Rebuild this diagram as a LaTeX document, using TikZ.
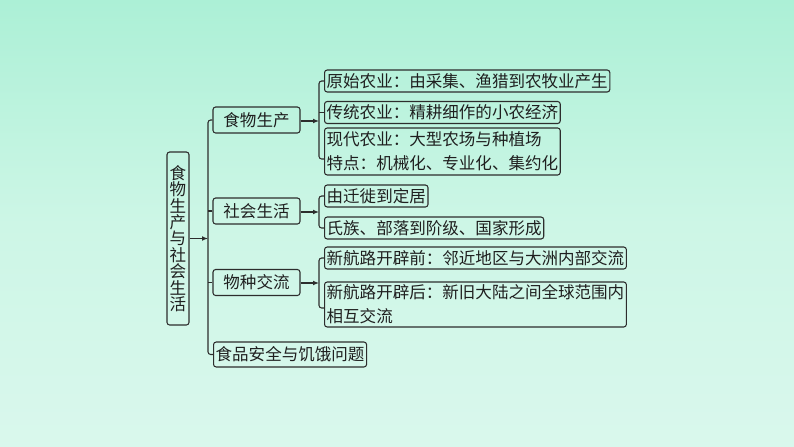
\documentclass[tikz,border=0pt]{standalone}
\usepackage{fontspec}
\newfontfamily\cjk{Noto Sans CJK SC}
\usetikzlibrary{arrows.meta}
\definecolor{bgtop}{RGB}{125,230,196}
\definecolor{bgupper}{RGB}{172,240,214}
\definecolor{bgmid}{RGB}{205,246,230}
\definecolor{bglow}{RGB}{220,248,238}
\definecolor{bgbot}{RGB}{206,240,230}
\definecolor{ln}{RGB}{45,45,45}
\pgfdeclareverticalshading{bgsh}{100bp}{color(0bp)=(bgbot); color(20bp)=(bglow); color(50bp)=(bgmid); color(75bp)=(bgupper); color(100bp)=(bgtop)}
\tikzset{
  box/.style={draw=ln, line width=0.8pt, rounded corners=2pt, inner xsep=1.6pt, inner ysep=0pt,
    font=\cjk\fontsize{12.4}{18}\selectfont, text=black!88, align=left},
  lv2/.style={box, minimum width=87*0.75pt, minimum height=26*0.75pt, align=center},
  lv3/.style={box, anchor=west, minimum height=22*0.75pt},
  conn/.style={draw=ln, line width=0.8pt, rounded corners=2pt},
  arr/.style={draw=ln, line width=0.8pt, -{Latex[length=4.5pt,width=3.6pt]}}
}
\begin{document}
\begin{tikzpicture}[x=0.75pt,y=-0.75pt]
\useasboundingbox (0,0) rectangle (794,447);
\shade[shading=bgsh] (0,0) rectangle (794,447);

% main
\node[box, align=center, font=\cjk\fontsize{12.4}{12.3}\selectfont, minimum width=22*0.75pt, minimum height=173*0.75pt, inner xsep=1.8pt] (main) at (178,238.5)
  {食\\物\\生\\产\\与\\社\\会\\生\\活};

% level 2
\node[lv2] (b1) at (256.5,120) {食物生产};
\node[lv2] (b2) at (256.5,211) {社会生活};
\node[lv2] (b3) at (256.5,282.5) {物种交流};
\node[box, anchor=west, minimum height=25*0.75pt] (b4) at (213,354.5) {食品安全与饥饿问题};

% level 3
\node[lv3] (c1) at (324,81) {原始农业：由采集、渔猎到农牧业产生};
\node[lv3] (c2) at (324,112.5) {传统农业：精耕细作的小农经济};
\node[lv3, minimum height=47*0.75pt] (c3) at (324,151.5) {现代农业：大型农场与种植场\\特点：机械化、专业化、集约化};
\node[lv3] (c4) at (324,196) {由迁徙到定居};
\node[lv3] (c5) at (324,228) {氏族、部落到阶级、国家形成};
\node[lv3] (c6) at (324,258) {新航路开辟前：邻近地区与大洲内部交流};
\node[lv3, minimum height=45*0.75pt] (c7) at (324,304.5) {新航路开辟后：新旧大陆之间全球范围内\\相互交流};

% junctions
\coordinate (j0) at (208,238.5);
\coordinate (j1) at (319,121);
\coordinate (j2) at (319,212);
\coordinate (j3) at (319,283);
\coordinate (t3) at (324,159);
\coordinate (t7) at (324,308);

% level 1 connectors
\draw[arr] (main.east) -- (j0);
\draw[conn] (b1.west) -| (j0) |- (b4.west);
\draw[conn] (b2.west) -- (b2.west -| j0);
\draw[conn] (b3.west) -- (b3.west -| j0);

% level 2 connectors
\draw[arr] (b1.east |- j1) -- (j1);
\draw[conn] (c1.west) -| (j1) |- (t3);
\draw[conn] (c2.west) -- (c2.west -| j1);

\draw[arr] (b2.east |- j2) -- (j2);
\draw[conn] (c4.west) -| (j2) |- (c5.west);

\draw[arr] (b3.east |- j3) -- (j3);
\draw[conn] (c6.west) -| (j3) |- (t7);
\end{tikzpicture}
\end{document}
